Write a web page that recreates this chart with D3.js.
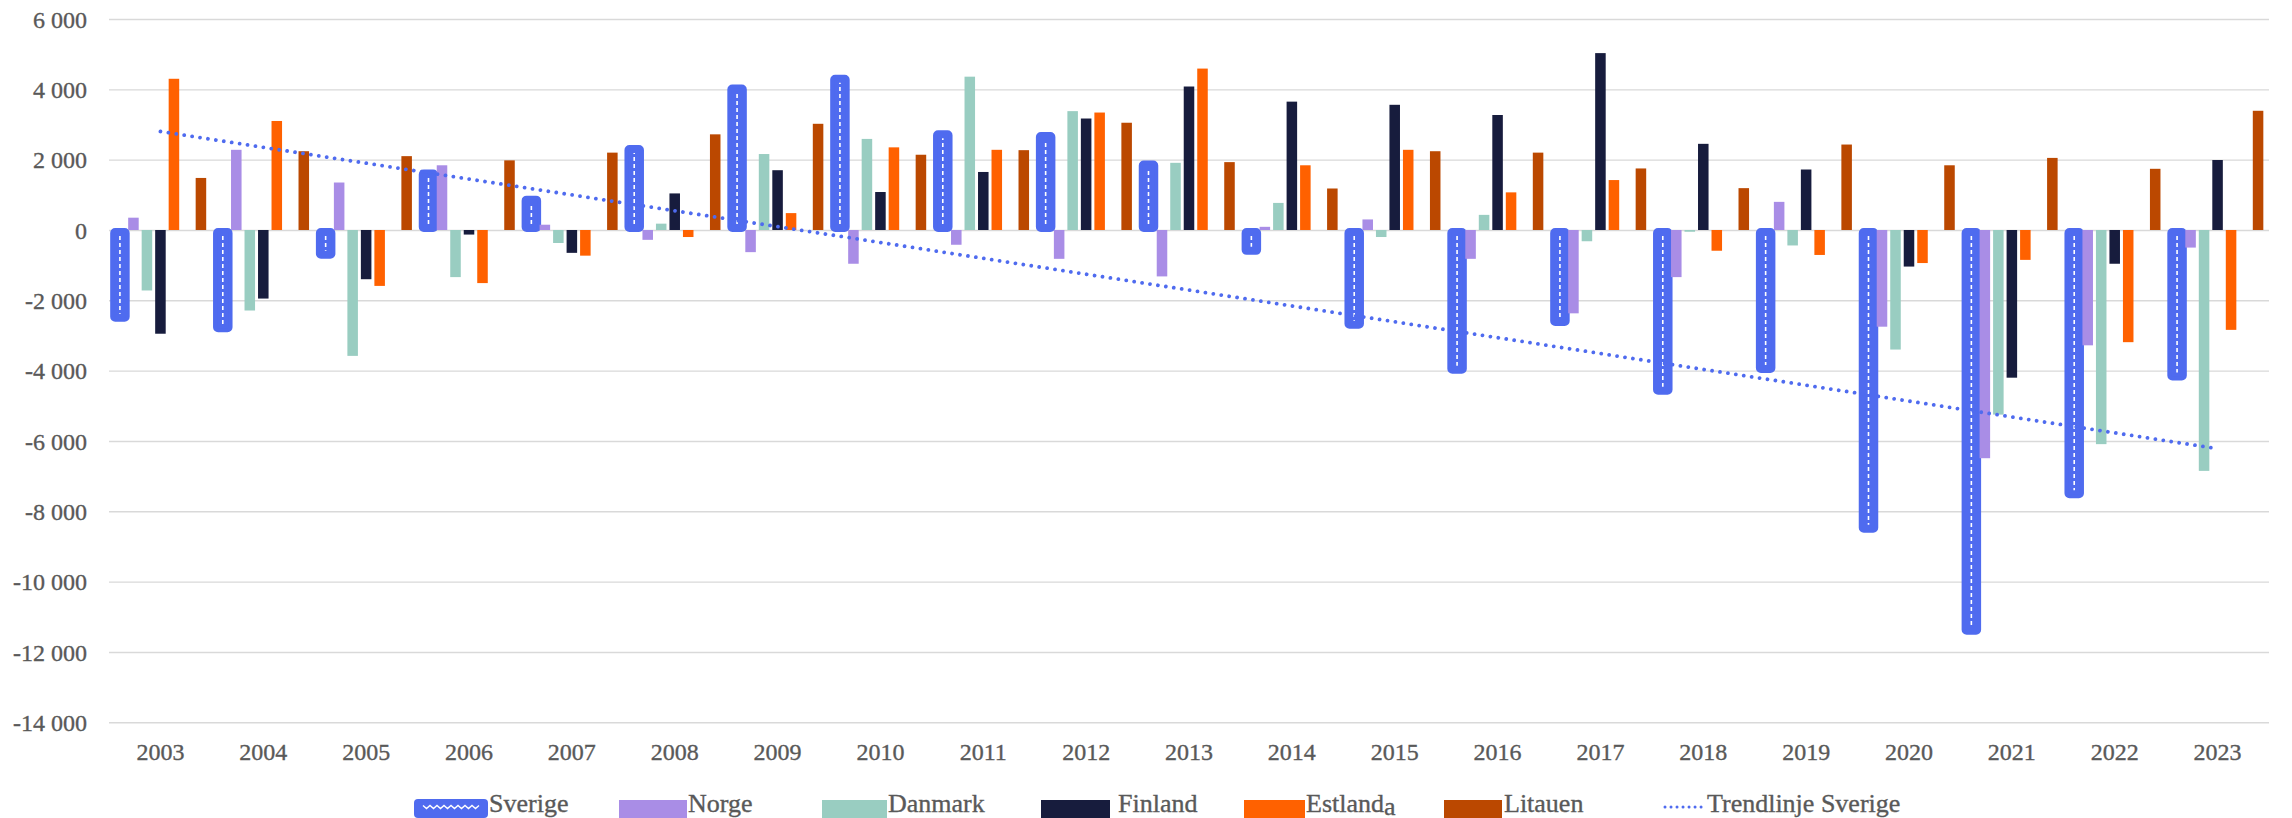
<!DOCTYPE html>
<html>
<head>
<meta charset="utf-8">
<script src="https://cdn.jsdelivr.net/npm/d3@7"></script>
<style>
  html, body { margin: 0; padding: 0; background: #fff; }
  svg { display: block; }
  text { font-family: "Liberation Serif", "Times New Roman", serif; fill: #595959; stroke: #595959; stroke-width: 0.35px; }
</style>
</head>
<body>
<svg id="chart" width="2292" height="818"></svg>
<script>
// data
const years = ["2003","2004","2005","2006","2007","2008","2009","2010","2011","2012","2013",
               "2014","2015","2016","2017","2018","2019","2020","2021","2022","2023"];

const sverige = [-2550, -2850, -760, 1660, 920, 2360, 4080, 4360, 2780, 2730, 1920,
                 -650, -2750, -4030, -2670, -4630, -4010, -8550, -11450, -7570, -4220];
const norge   = [350, 2280, 1350, 1840, 150, -280, -630, -960, -420, -820, -1320,
                 90, 300, -820, -2370, -1340, 800, -2750, -6490, -3280, -500];
const danmark = [-1720, -2290, -3580, -1340, -370, 180, 2160, 2590, 4360, 3380, 1910,
                 770, -200, 430, -320, -50, -440, -3400, -5250, -6090, -6850];
const finland = [-2950, -1950, -1400, -130, -650, 1040, 1700, 1080, 1650, 3170, 4080,
                 3650, 3560, 3270, 5030, 2450, 1720, -1040, -4200, -960, 1990];
const estland = [4300, 3100, -1590, -1510, -730, -200, 480, 2350, 2280, 3340, 4590,
                 1840, 2280, 1070, 1420, -590, -710, -940, -850, -3190, -2840];
const litauen = [1480, 2240, 2100, 1980, 2200, 2720, 3020, 2140, 2270, 3050, 1930,
                 1180, 2240, 2200, 1750, 1190, 2430, 1840, 2050, 1740, 3390];

// bar slots per year; "Lettland" is an empty series in the source chart
const slots = ["Sverige", "Norge", "Danmark", "Finland", "Estland", "Lettland", "Litauen"];
const legendLabels = ["Sverige", "Norge", "Danmark", "Finland", "Estlanda", "Litauen", "Trendlinje Sverige"];
const yTicks = [6000, 4000, 2000, 0, -2000, -4000, -6000, -8000, -10000, -12000, -14000];

const colors = {
    Sverige: "#4f6bef",
    Norge: "#a98de6",
    Danmark: "#99cdc1",
    Finland: "#171c3d",
    Estland: "#ff6100",
    Litauen: "#bb4800"
};

const others = [
    { name: "Norge", values: norge },
    { name: "Danmark", values: danmark },
    { name: "Finland", values: finland },
    { name: "Estland", values: estland },
    { name: "Litauen", values: litauen }
];

const svg = d3.select("#chart");
const plotLeft = 109, plotRight = 2269, plotTop = 19, plotBottom = 722.3;

const x0 = d3.scaleBand()
    .domain(years)
    .range([plotLeft, plotRight])
    .paddingInner(0.0813)
    .paddingOuter(0.0407);

const x1 = d3.scaleBand()
    .domain(slots)
    .range([0, x0.bandwidth()])
    .paddingInner(0.22)
    .paddingOuter(0.11);

const y = d3.scaleLinear()
    .domain([-14000, 6000])
    .range([plotBottom, plotTop]);

const fmt = d3.formatLocale({
    decimal: ",", thousands: "\u00a0", grouping: [3], currency: ["", ""], minus: "-"
}).format(",d");

// gridlines + y labels
const yAxis = svg.append("g")
    .attr("transform", `translate(${plotLeft},0)`)
    .call(d3.axisLeft(y)
        .tickValues(yTicks)
        .tickSize(-(plotRight - plotLeft))
        .tickPadding(22)
        .tickFormat(fmt));
yAxis.select(".domain").remove();
yAxis.selectAll("line").attr("stroke", "#d9d9d9").attr("stroke-width", 1.4);
yAxis.selectAll("text")
    .attr("font-size", 24)
    .attr("font-family", null)
    .attr("dy", "0.34em");

// year labels
svg.append("g")
    .selectAll("text")
    .data(years)
    .enter()
    .append("text")
    .attr("x", d => x0(d) + x0.bandwidth() / 2)
    .attr("y", 760)
    .attr("text-anchor", "middle")
    .attr("font-size", 24)
    .text(d => d);

const y0 = y(0);
const slotCenter = (yr, name) => x0(yr) + x1(name) + x1.bandwidth() / 2;

// Sverige bars: rounded, outlined, with a white dashed centre line
const sv = svg.append("g")
    .selectAll("g")
    .data(years.map((yr, i) => ({ yr, v: sverige[i] })))
    .enter()
    .append("g");

sv.append("rect")
    .attr("x", d => slotCenter(d.yr, "Sverige") - 7.75)
    .attr("width", 15.5)
    .attr("y", d => Math.min(y(d.v), y0))
    .attr("height", d => Math.abs(y(d.v) - y0))
    .attr("rx", 3)
    .attr("fill", colors.Sverige)
    .attr("stroke", colors.Sverige)
    .attr("stroke-width", 4)
    .attr("stroke-linejoin", "round");

sv.append("line")
    .attr("x1", d => slotCenter(d.yr, "Sverige"))
    .attr("x2", d => slotCenter(d.yr, "Sverige"))
    .attr("y1", d => y0 + (d.v < 0 ? 6 : -6))
    .attr("y2", d => y(d.v) + (d.v < 0 ? -6 : 6))
    .attr("stroke", "#fff")
    .attr("stroke-width", 1.6)
    .attr("stroke-dasharray", "4 3");

// the other countries
svg.append("g")
    .selectAll("g")
    .data(others)
    .enter()
    .append("g")
    .attr("fill", d => colors[d.name])
    .selectAll("rect")
    .data(d => d.values.map((v, i) => ({ name: d.name, yr: years[i], v })))
    .enter()
    .append("rect")
    .attr("x", d => x0(d.yr) + x1(d.name))
    .attr("width", x1.bandwidth())
    .attr("y", d => Math.min(y(d.v), y0))
    .attr("height", d => Math.abs(y(d.v) - y0));

// linear trend for Sverige (least squares over the values above)
const n = sverige.length;
const mx = (n - 1) / 2;
const my = d3.mean(sverige);
const slope = d3.sum(sverige, (v, i) => (i - mx) * (v - my)) / d3.sum(sverige, (v, i) => (i - mx) ** 2);
const trend = years.map((yr, i) => ({ yr, v: my + slope * (i - mx) }));

svg.append("path")
    .datum(trend)
    .attr("fill", "none")
    .attr("stroke", colors.Sverige)
    .attr("stroke-width", 3.8)
    .attr("stroke-linecap", "round")
    .attr("stroke-dasharray", "0.01 8")
    .attr("d", d3.line()
        .x(d => x0(d.yr) + x0.bandwidth() / 2)
        .y(d => y(d.v)));

// legend
const legendSwatch = [[414, 488], [619, 687], [822, 887], [1041, 1110], [1244, 1305], [1444, 1502], [1663, 1705]];
const legendTextX = [489, 688, 888, 1118, 1306, 1504, 1707];
const legendKeys = ["Sverige", "Norge", "Danmark", "Finland", "Estland", "Litauen", "trend"];

const legend = svg.append("g")
    .selectAll("g")
    .data(legendLabels.map((label, i) => ({ label, key: legendKeys[i], sw: legendSwatch[i], tx: legendTextX[i] })))
    .enter()
    .append("g");

legend.each(function (d) {
    const g = d3.select(this);
    const w = d.sw[1] - d.sw[0];
    if (d.key === "trend") {
        g.append("line")
            .attr("x1", d.sw[0] + 2).attr("x2", d.sw[1])
            .attr("y1", 807).attr("y2", 807)
            .attr("stroke", colors.Sverige)
            .attr("stroke-width", 3)
            .attr("stroke-linecap", "round")
            .attr("stroke-dasharray", "0.01 6");
    } else if (d.key === "Sverige") {
        g.append("rect")
            .attr("x", d.sw[0]).attr("y", 799)
            .attr("width", w).attr("height", 19)
            .attr("rx", 4)
            .attr("fill", colors.Sverige);
        const zig = d3.range(d.sw[0] + 9, d.sw[1] - 8, 3.5)
            .map((px, k) => [px, 807 + (k % 2 ? 1.6 : -1.6)]);
        g.append("path")
            .attr("d", d3.line()(zig))
            .attr("fill", "none")
            .attr("stroke", "#fff")
            .attr("stroke-width", 1.3);
    } else {
        g.append("rect")
            .attr("x", d.sw[0]).attr("y", 800)
            .attr("width", w).attr("height", 18)
            .attr("fill", colors[d.key]);
    }
    const t = g.append("text")
        .attr("x", d.tx)
        .attr("y", 812)
        .attr("font-size", 26);
    if (d.label === "Estlanda") {
        t.append("tspan").text("Estland");
        t.append("tspan").attr("dy", 3).text("a");
    } else {
        t.text(d.label);
    }
});
</script>
</body>
</html>
